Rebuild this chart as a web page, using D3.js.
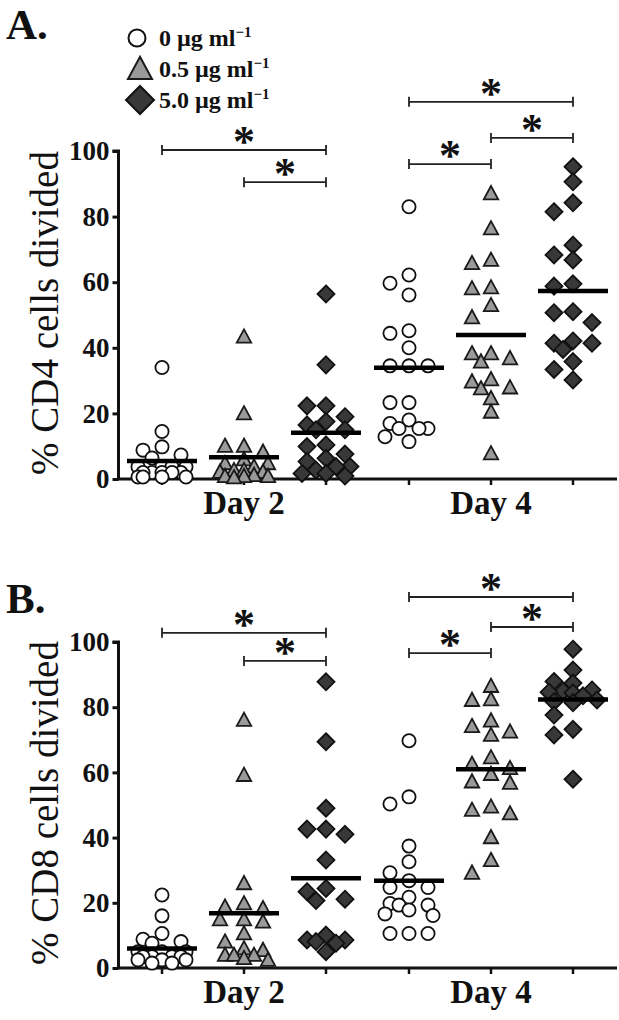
<!DOCTYPE html>
<html>
<head>
<meta charset="utf-8">
<script src="https://cdn.jsdelivr.net/npm/d3@7/dist/d3.min.js"></script>
<style>
  html, body { margin: 0; padding: 0; background: #fff; }
  svg { display: block; }
</style>
</head>
<body>
<svg id="chart" width="619" height="1020"></svg>
<script>
// ---------------- DATA ----------------
const days = ["Day 2", "Day 4"];
const doses = ["0", "0.5", "5.0"];
const doseLabels = ["0 µg ml", "0.5 µg ml", "5.0 µg ml"];
const yTicks = [0, 20, 40, 60, 80, 100];

// Panel A: % CD4 cells divided
const cd4_d2_0  = [34, 14.5, 9.8, 8.8, 7.3, 6.4, 3.7, 3.7, 3.7, 3.7, 2, 2, 2, 2, 2, 0.6, 0.6, 0.6, 0.6];
const cd4_d2_05 = [43.4, 20, 10.1, 10.1, 8.3, 6, 4.8, 4.8, 3.8, 2.7, 2.7, 2.2, 2.2, 1.2, 0.9, 0.9, 0.9, 0.5];
const cd4_d2_5  = [56.4, 34.8, 22.3, 22.3, 19, 17.5, 16.5, 15, 15, 10.4, 9.9, 7.6, 6.3, 5.3, 3.8, 3.8, 2.7, 1.7, 1.7, 0.9];
const cd4_d4_0  = [83, 62.2, 59.7, 56.1, 45.2, 44.4, 40, 34.5, 34.5, 34.5, 23.3, 23.3, 18, 16.9, 15.4, 15.4, 15.4, 12.9, 11.4];
const cd4_d4_05 = [87.1, 76.4, 66.8, 65.8, 58.4, 58.1, 53, 49.3, 38.3, 38.3, 36.8, 35.8, 30.4, 29.7, 27.9, 27.6, 24.6, 20.5, 7.8];
const cd4_d4_5  = [95.2, 90.6, 84.2, 81.5, 71.3, 68.3, 66.8, 59.5, 58.8, 51, 50.7, 47.7, 42.1, 41.4, 41.4, 39.5, 35.8, 33.4, 30.2];
const cd4_medians = [5.5, 6.6, 14.1, 33.9, 43.9, 57.3];

// Panel B: % CD8 cells divided
const cd8_d2_0  = [22.4, 16, 10.6, 8.8, 8.1, 7.6, 5, 5, 5, 3.5, 3.5, 3.5, 3.5, 2.5, 2.5, 2.5, 1.5, 1.5];
const cd8_d2_05 = [76.1, 59.2, 26, 19.8, 18.8, 18.3, 14.9, 14.9, 14.2, 10.6, 8.1, 6, 5.5, 4, 4, 4, 3, 2.5];
const cd8_d2_5  = [87.8, 69.4, 49, 42.6, 42.6, 41, 33.1, 24.4, 23.4, 21.1, 20.7, 10.1, 8.6, 8.6, 8.1, 7.6, 5];
const cd8_d4_0  = [69.7, 52.5, 50.3, 37.4, 32.6, 29.2, 26.8, 24.7, 24.7, 21.7, 19.8, 19.3, 19.3, 17.8, 16.6, 16.1, 10.6, 10.6, 10.6];
const cd8_d4_05 = [86.5, 82.4, 82.2, 75.9, 74.2, 72.5, 71.5, 64.6, 62.6, 61.3, 59.5, 57.2, 56.8, 49.5, 48.5, 47.4, 40.1, 33.1, 29.2];
const cd8_d4_5  = [97.8, 91.4, 87.9, 87.4, 85.3, 84.9, 84.6, 84.4, 83.5, 82.2, 81.7, 81.4, 77.6, 73.2, 71.5, 57.9];
const cd8_medians = [6, 16.8, 27.5, 26.8, 61, 82.4];

// Significance brackets: [day, dose from, day, dose to, level (in % units)]
const cd4_brackets = [
  ["Day 2", "0", "Day 2", "5.0", 100.3],
  ["Day 2", "0.5", "Day 2", "5.0", 90.5],
  ["Day 4", "0", "Day 4", "5.0", 115],
  ["Day 4", "0.5", "Day 4", "5.0", 104],
  ["Day 4", "0", "Day 4", "0.5", 96]
];
const cd8_brackets = [
  ["Day 2", "0", "Day 2", "5.0", 102.8],
  ["Day 2", "0.5", "Day 2", "5.0", 94.2],
  ["Day 4", "0", "Day 4", "5.0", 113.8],
  ["Day 4", "0.5", "Day 4", "5.0", 104.6],
  ["Day 4", "0", "Day 4", "0.5", 96.6]
];

// ---------------- DRAW ----------------
const svg = d3.select("#chart");
const SERIF = "'Liberation Serif', 'Times New Roman', serif";

const xDay = d3.scalePoint().domain(days).range([244, 491]);
const xDose = d3.scalePoint().domain(doses).range([-82, 82]);
const xPos = (day, dose) => xDay(day) + xDose(dose);

const styles = {
  "0":   { type: "circle", fill: "#ffffff", stroke: "#111" },
  "0.5": { type: "triangle", fill: "#9a9a9a", stroke: "#1a1a1a" },
  "5.0": { type: "diamond", fill: "#383838", stroke: "#111" }
};

function markerPath(type, s) {
  if (type === "circle") {
    const p = d3.path(); p.arc(0, 0, s, 0, 2 * Math.PI); p.closePath(); return p.toString();
  }
  if (type === "triangle") {
    const h = s * 1.85;
    return `M0,${-h * 0.55}L${s},${h * 0.45}L${-s},${h * 0.45}Z`;
  }
  return `M0,${-s}L${s},0L0,${s}L${-s},0Z`;
}
const markerSize = { circle: 6.6, triangle: 7.2, diamond: 8.5 };

function swarm(values, y) {
  const slots = [0, -19, 19, -10, 10, -24, 24];
  const placed = [];
  const sorted = values.slice().sort((a, b) => b - a);
  sorted.forEach(v => {
    const py = y(v);
    let best = 0, bestD = -1;
    for (const s of slots) {
      let dmin = Infinity;
      for (const p of placed) {
        const d = Math.hypot(p.dx - s, p.py - py);
        if (d < dmin) dmin = d;
      }
      if (dmin >= 13) { best = s; bestD = Infinity; break; }
      if (dmin > bestD) { bestD = dmin; best = s; }
    }
    placed.push({ v, dx: best, py });
  });
  return placed;
}

function drawPanel(cfg) {
  const g = svg.append("g");
  const y = d3.scaleLinear().domain([0, 100]).range([cfg.y0, cfg.y100]);
  const axisX = 118.5;

  g.append("text").attr("x", 6).attr("y", cfg.letterY)
    .attr("font-family", SERIF).attr("font-weight", "bold").attr("font-size", 43)
    .attr("fill", "#111").text(cfg.letter);

  const yAxis = d3.axisLeft(y).tickValues(yTicks).tickSize(6).tickPadding(3).tickFormat(d3.format("d"));
  const ya = g.append("g").attr("transform", `translate(${axisX},0)`).call(yAxis);
  ya.select(".domain").attr("stroke", "#111").attr("stroke-width", 3)
    .attr("d", `M-6,${y(100)}H0V${y(0)}`);
  ya.selectAll(".tick line").attr("stroke", "#111").attr("stroke-width", 3);
  ya.selectAll(".tick text").attr("font-family", SERIF).attr("font-weight", "bold")
    .attr("font-size", 27).attr("fill", "#111");

  const xa = g.append("g");
  xa.append("line").attr("x1", axisX - 1.5).attr("x2", 617).attr("y1", y(0)).attr("y2", y(0))
    .attr("stroke", "#111").attr("stroke-width", 3);
  days.forEach(day => doses.forEach(dose => {
    xa.append("line").attr("x1", xPos(day, dose)).attr("x2", xPos(day, dose))
      .attr("y1", y(0)).attr("y2", y(0) + 6).attr("stroke", "#111").attr("stroke-width", 2.5);
  }));
  days.forEach(day => {
    xa.append("text").attr("x", xDay(day)).attr("y", y(0) + 35)
      .attr("text-anchor", "middle").attr("font-family", SERIF).attr("font-weight", "bold")
      .attr("font-size", 33).attr("fill", "#111").text(day);
  });

  g.append("text").attr("transform", `translate(58,${(y(0) + y(100)) / 2 - 2}) rotate(-90)`)
    .attr("text-anchor", "middle").attr("font-family", SERIF).attr("font-size", 39)
    .attr("fill", "#111").text(cfg.yTitle);

  let k = 0;
  days.forEach(day => doses.forEach(dose => {
    const vals = cfg.series[k];
    const cx = xPos(day, dose);
    const st = styles[dose];
    const pts = swarm(vals, y);
    g.append("g").selectAll("path").data(pts).join("path")
      .attr("transform", d => `translate(${cx + d.dx},${y(d.v)})`)
      .attr("d", markerPath(st.type, markerSize[st.type]))
      .attr("fill", st.fill).attr("stroke", st.stroke).attr("stroke-width", 1.8);
    g.append("line").attr("x1", cx - 35).attr("x2", cx + 35)
      .attr("y1", y(cfg.medians[k])).attr("y2", y(cfg.medians[k]))
      .attr("stroke", "#000").attr("stroke-width", 4.5);
    k++;
  }));

  cfg.brackets.forEach(b => {
    const x1 = xPos(b[0], b[1]), x2 = xPos(b[2], b[3]), by = y(b[4]);
    const bg = g.append("g").attr("stroke", "#222").attr("stroke-width", 1.8);
    bg.append("line").attr("x1", x1).attr("x2", x2).attr("y1", by).attr("y2", by);
    bg.append("line").attr("x1", x1).attr("x2", x1).attr("y1", by - 5).attr("y2", by + 5);
    bg.append("line").attr("x1", x2).attr("x2", x2).attr("y1", by - 5).attr("y2", by + 5);
    g.append("text").attr("x", (x1 + x2) / 2).attr("y", by + 6)
      .attr("text-anchor", "middle").attr("font-family", SERIF).attr("font-weight", "bold")
      .attr("font-size", 44).attr("fill", "#111").text("*");
  });
}

drawPanel({
  letter: "A.", letterY: 39, y0: 479, y100: 151,
  yTitle: "% CD4 cells divided",
  series: [cd4_d2_0, cd4_d2_05, cd4_d2_5, cd4_d4_0, cd4_d4_05, cd4_d4_5],
  medians: cd4_medians, brackets: cd4_brackets
});
drawPanel({
  letter: "B.", letterY: 613, y0: 968, y100: 642,
  yTitle: "% CD8 cells divided",
  series: [cd8_d2_0, cd8_d2_05, cd8_d2_5, cd8_d4_0, cd8_d4_05, cd8_d4_5],
  medians: cd8_medians, brackets: cd8_brackets
});

const legend = svg.append("g");
const legendSize = { circle: 8.5, triangle: 12, diamond: 14 };
const legendCenters = [[137, 38], [140, 69], [140, 100]];
doses.forEach((dose, i) => {
  const st = styles[dose];
  legend.append("path")
    .attr("transform", `translate(${legendCenters[i][0]},${legendCenters[i][1]})`)
    .attr("d", markerPath(st.type, legendSize[st.type]))
    .attr("fill", st.fill).attr("stroke", st.stroke).attr("stroke-width", 2);
  const t = legend.append("text").attr("x", 159).attr("y", legendCenters[i][1] + 8)
    .attr("font-family", SERIF).attr("font-weight", "bold").attr("font-size", 24).attr("fill", "#111");
  t.append("tspan").text(doseLabels[i]);
  t.append("tspan").attr("dy", -9).attr("font-size", 15).text("−1");
});
</script>
</body>
</html>
